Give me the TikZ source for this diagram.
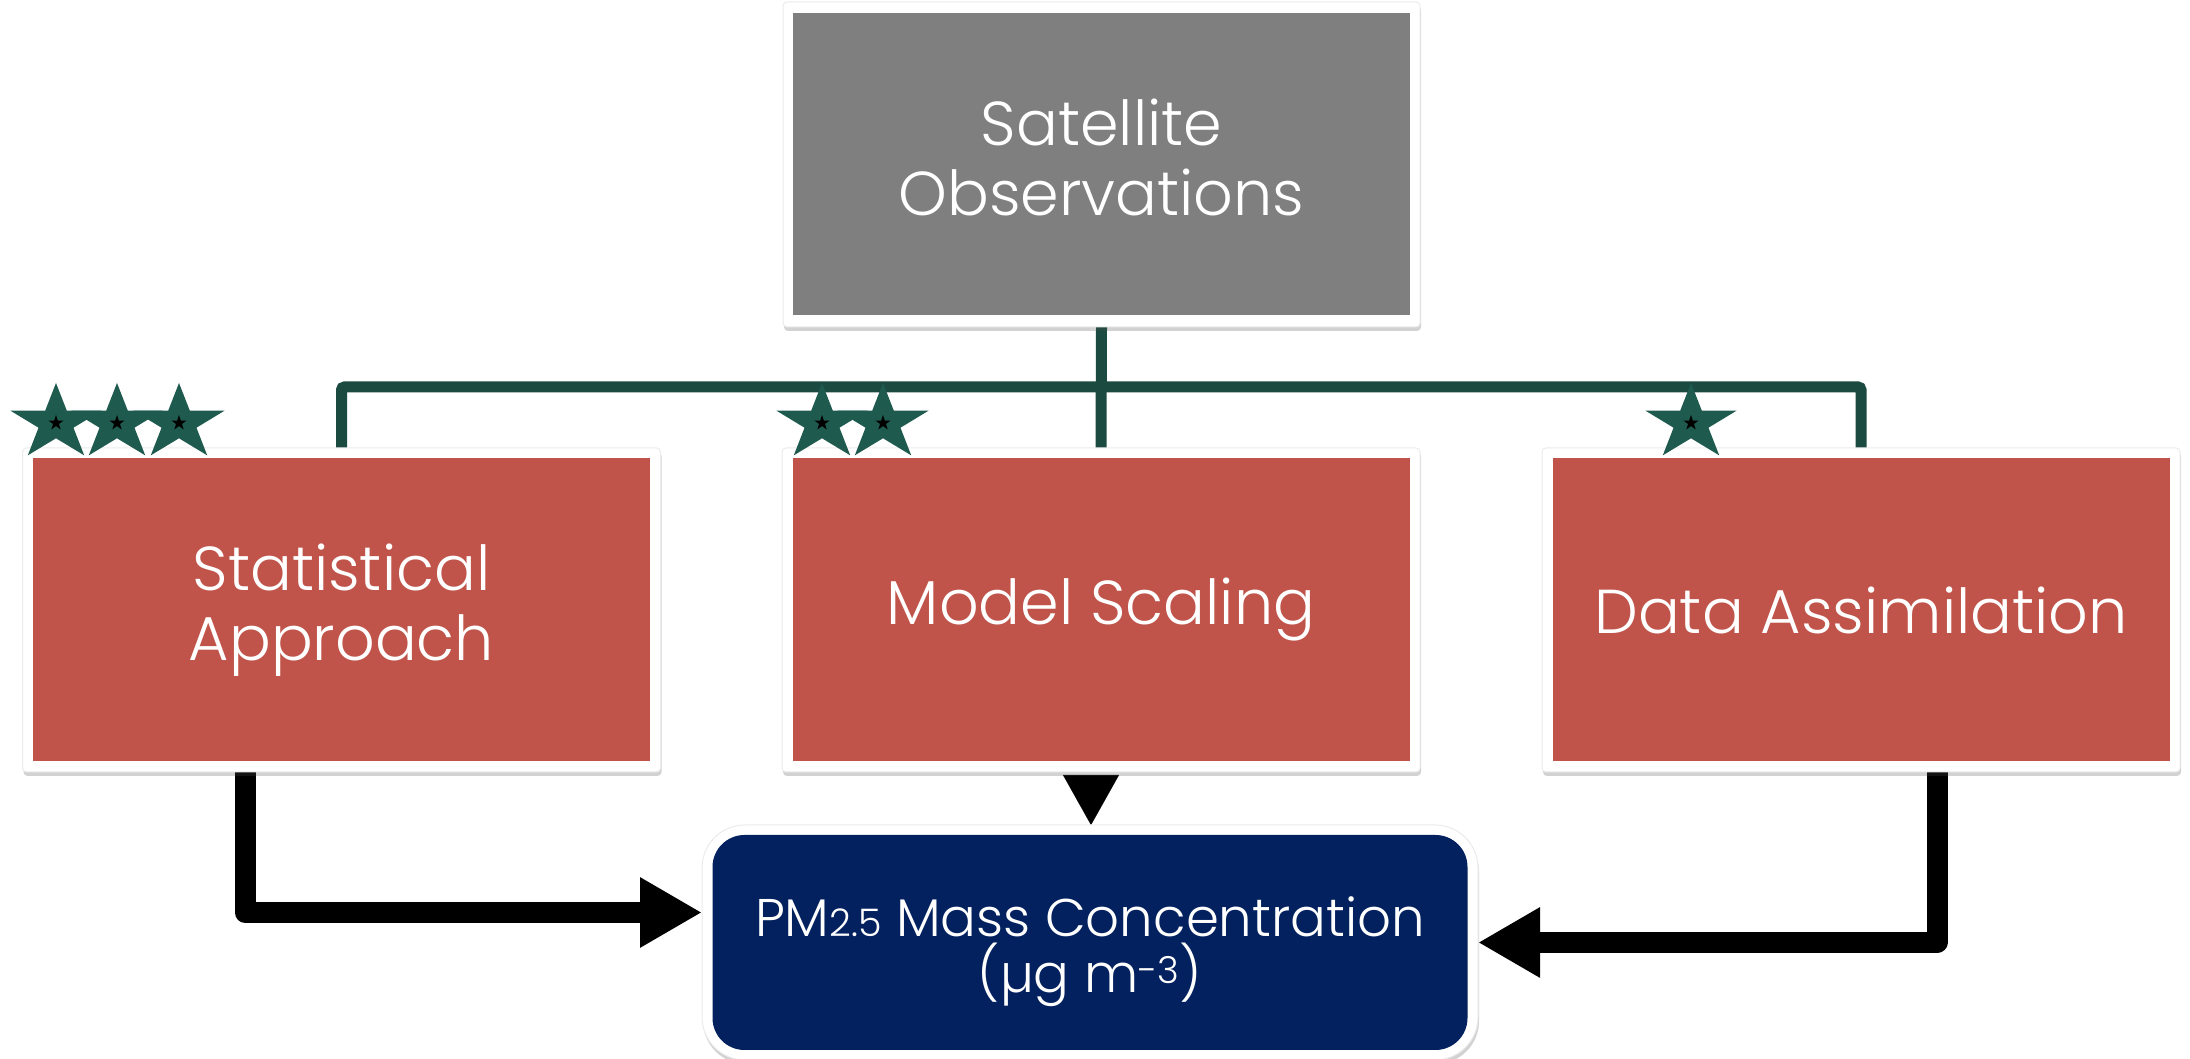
\documentclass[tikz,border=0pt]{standalone}
\usepackage{fontspec}
\setmainfont{Poppins}[UprightFont=* Light]
\usetikzlibrary{arrows.meta,shadows,backgrounds}
\definecolor{redbox}{HTML}{C0544A}
\definecolor{graybox}{HTML}{7F7F7F}
\definecolor{bluebox}{HTML}{03215E}
\definecolor{connline}{HTML}{1B4A41}
\definecolor{starfill}{HTML}{1F5A4E}
\tikzset{
  frame/.style={fill=white, draw=black!8, line width=1pt, rounded corners=4pt,
    inner sep=0pt, outer sep=0pt,
    drop shadow={shadow xshift=1pt, shadow yshift=-4pt, opacity=0.25, fill=black!70}},
  inbox/.style={inner sep=0pt, outer sep=0pt, text=white, align=center},
  boxtext/.style={font=\fontsize{62}{70}\selectfont},
  conn/.style={draw=connline, line width=11pt, rounded corners=3pt},
  bigarrow/.style={draw=black, line width=21pt, line join=round,
    -{Triangle[length=62pt,width=66pt]}},
  pics/gstar/.style={code={
    \fill[starfill, xscale=1.2] (90:40) -- (126:15.3) -- (162:40) -- (198:15.3) -- (234:40)
      -- (270:15.3) -- (306:40) -- (342:15.3) -- (18:40) -- (54:15.3) -- cycle;
    \fill[black] (90:8) -- (126:3.06) -- (162:8) -- (198:3.06) -- (234:8)
      -- (270:3.06) -- (306:8) -- (342:3.06) -- (18:8) -- (54:3.06) -- cycle;
  }}
}
\begin{document}
\begin{tikzpicture}[x=1pt,y=1pt]
\useasboundingbox (0,0) rectangle (2190,1059);

% frames
\node[frame, minimum width=637pt, minimum height=325pt] (satF) at (1101.5,894.5) {};
\node[frame, minimum width=638pt, minimum height=324pt] (statF) at (341.5,449) {};
\node[frame, minimum width=638pt, minimum height=324pt] (modelF) at (1101,449) {};
\node[frame, minimum width=638pt, minimum height=324pt] (dataF) at (1861,449) {};
\node[frame, rounded corners=43pt, minimum width=776pt, minimum height=235pt] (pmF) at (1090,116.5) {};

% inner boxes
\node[inbox, fill=graybox, minimum width=617pt, minimum height=302pt,
  label={[inbox, boxtext, yshift=7pt]center:Satellite\\Observations}] (sat) at (satF) {};
\node[inbox, boxtext, fill=redbox, minimum width=617pt, minimum height=303pt] (stat) at (statF) {Statistical\\Approach};
\node[inbox, boxtext, fill=redbox, minimum width=617pt, minimum height=303pt] (model) at (modelF) {Model Scaling};
\node[inbox, boxtext, fill=redbox, minimum width=617pt, minimum height=303pt] (data) at (dataF) {Data Assimilation};
\node[inbox, fill=bluebox, rounded corners=32pt, minimum width=755pt, minimum height=215pt,
  label={[inbox, yshift=-9pt, font=\fontsize{53}{56}\selectfont]center:PM{\fontsize{38}{38}\selectfont 2.5} Mass Concentration\\(µg m\textsuperscript{-3})}] (pm) at (pmF) {};

\begin{pgfonlayer}{background}
\coordinate (hub) at (1101.5,672);
\draw[conn] (statF.north) |- (hub) -| (dataF.north);
\draw[conn] (satF.south) -- (modelF.north);
\draw[bigarrow] ([xshift=-96.5pt]statF.south) |- ([yshift=30pt]pmF.west);
\draw[bigarrow] ([xshift=76pt]dataF.south) |- (pmF.east);
\draw[draw=black, line width=0.1pt, -{Triangle[length=50pt,width=56pt]}]
  ([xshift=-10pt,yshift=-3pt]modelF.south) -- ([xshift=1pt]pmF.north);
\end{pgfonlayer}

% stars
\pic at (56,636) {gstar};
\pic at (117,636) {gstar};
\pic at (179,636) {gstar};
\pic at (822,636) {gstar};
\pic at (883,636) {gstar};
\pic at (1691,636) {gstar};
\end{tikzpicture}
\end{document}
